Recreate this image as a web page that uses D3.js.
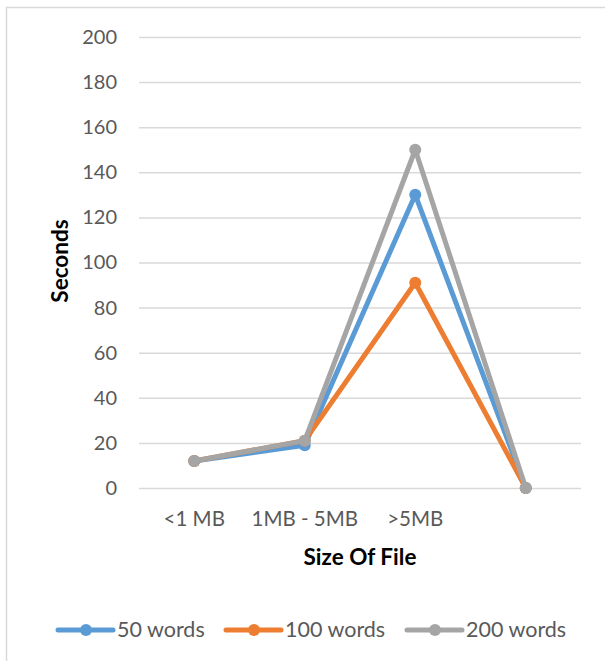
<!DOCTYPE html>
<html><head><meta charset="utf-8">
<script src="https://cdn.jsdelivr.net/npm/d3@7"></script>
<style>body{margin:0;background:#fff}svg{display:block;font-family:Lato,"Open Sans",sans-serif}</style>
</head><body><svg id="c" width="605" height="661"></svg>
<script>
const categories = ["<1 MB", "1MB - 5MB", ">5MB", ""];
const seriesNames = ["50 words", "100 words", "200 words"];
const seriesColors = ["#5b9bd5", "#ed7d31", "#a5a5a5"];
const words50 = [12, 19, 130, 0];
const words100 = [12, 21, 91, 0];
const words200 = [12, 21, 150, 0];
const yTicks = [0, 20, 40, 60, 80, 100, 120, 140, 160, 180, 200];
const series = [words50, words100, words200];

const svg = d3.select("#c");
svg.append("rect").attr("x", 6.5).attr("y", 7.5).attr("width", 620).attr("height", 680)
  .attr("fill", "none").attr("stroke", "#d9d9d9").attr("stroke-width", 1.5);

const x = d3.scaleBand().domain(categories.map((c, i) => i)).range([139, 581]);
const y = d3.scaleLinear().domain([0, 200]).range([488, 37]);

const yAxis = svg.append("g").attr("transform", "translate(139,0)")
  .call(d3.axisLeft(y).tickValues(yTicks).tickSize(-442).tickPadding(22));
yAxis.select(".domain").remove();
yAxis.selectAll(".tick line").attr("stroke", "#d9d9d9").attr("stroke-width", 1.5);
yAxis.selectAll(".tick text").attr("fill", "#595959").style("font-size", "20px").style("font-family", "Lato");

const xAxis = svg.append("g").attr("transform", "translate(0,488)")
  .call(d3.axisBottom(x).tickFormat(i => categories[i]).tickSize(0).tickPadding(23));
xAxis.select(".domain").remove();
xAxis.selectAll(".tick text").attr("fill", "#595959").style("font-size", "20.5px").style("font-family", "Lato");

const line = d3.line().x((d, i) => x(i) + x.bandwidth() / 2).y(d => y(d));
series.forEach((s, k) => {
  svg.append("path").datum(s).attr("d", line).attr("fill", "none")
    .attr("stroke", seriesColors[k]).attr("stroke-width", 5).attr("stroke-linejoin", "round");
  svg.selectAll(null).data(s).enter().append("circle")
    .attr("cx", (d, i) => x(i) + x.bandwidth() / 2).attr("cy", d => y(d)).attr("r", 6)
    .attr("fill", seriesColors[k]);
});

svg.append("text").attr("transform", "translate(68,261) rotate(-90)").attr("text-anchor", "middle")
  .style("font-size", "22.5px").style("font-weight", "bold").attr("fill", "#000").text("Seconds");
svg.append("text").attr("x", 360).attr("y", 565).attr("text-anchor", "middle")
  .style("font-size", "22.5px").style("font-weight", "bold").attr("fill", "#000").text("Size Of File");

const legendX = [58, 226, 407];
const lg = svg.append("g");
seriesNames.forEach((n, k) => {
  const g = lg.append("g").attr("transform", `translate(${legendX[k]},630)`);
  g.append("line").attr("x1", 0).attr("x2", 55).attr("stroke", seriesColors[k]).attr("stroke-width", 5).attr("stroke-linecap", "round");
  g.append("circle").attr("cx", 28).attr("r", 6).attr("fill", seriesColors[k]);
  g.append("text").attr("x", 59).attr("y", 7).attr("fill", "#595959").style("font-size", "21.5px").text(n);
});
</script></body></html>
